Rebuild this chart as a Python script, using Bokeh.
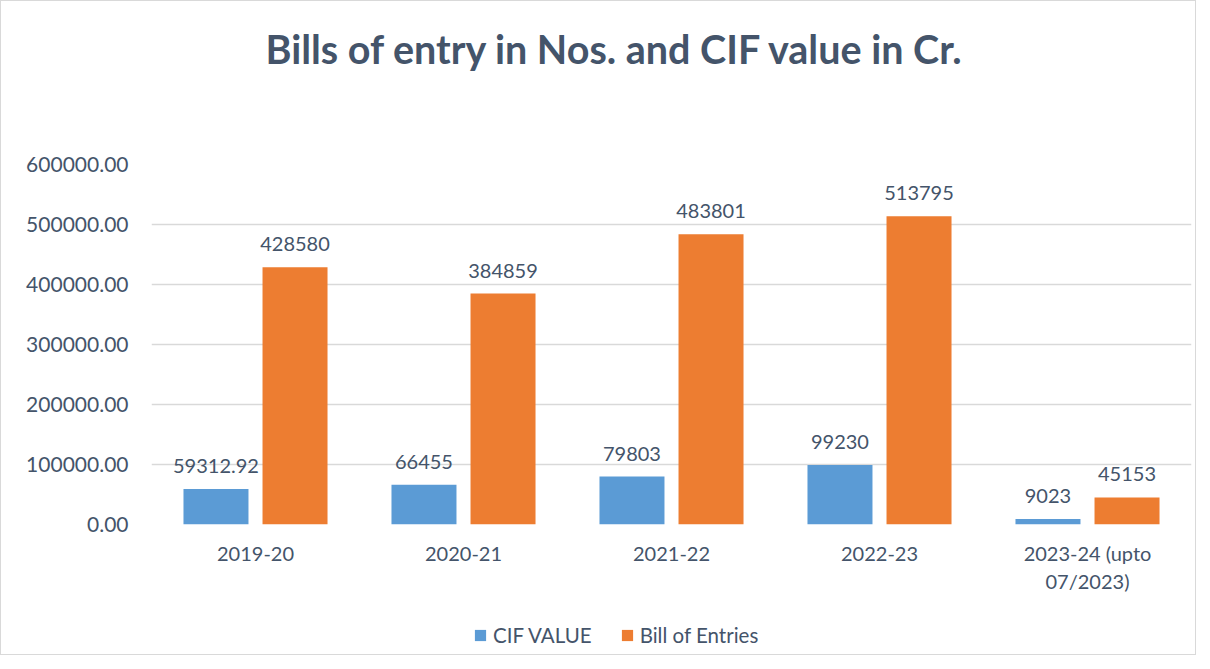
from bokeh.plotting import figure
from bokeh.layouts import column
from bokeh.models import (FactorRange, Range1d, ColumnDataSource, LabelSet, Legend, LegendItem,
                          NumeralTickFormatter, FixedTicker)
from bokeh.core.properties import value
from bokeh.transform import dodge
from bokeh.embed import file_html
from bokeh.resources import INLINE

title_text = "Bills of entry in Nos. and CIF value in Cr."
categories = ["2019-20", "2020-21", "2021-22", "2022-23", "2023-24 (upto\n07/2023)"]
cif_value = [59312.92, 66455, 79803, 99230, 9023]
bill_entries = [428580, 384859, 483801, 513795, 45153]
cif_labels = ["59312.92", "66455", "79803", "99230", "9023"]
bill_labels = ["428580", "384859", "483801", "513795", "45153"]
y_ticks = [0, 100000, 200000, 300000, 400000, 500000, 600000]
series_names = ["CIF VALUE", "Bill of Entries"]

FONT = "Lato"
TXT = "#44546A"
BLUE = "#5B9BD5"
ORANGE = "#ED7D31"

src = ColumnDataSource(dict(cat=categories, cif=cif_value, bill=bill_entries,
                            cif_lab=cif_labels, bill_lab=bill_labels))


def blank_strip(h, top):
    f = figure(width=1194, height=h, output_backend="svg", toolbar_location=None,
               x_range=Range1d(0, 1), y_range=Range1d(0, 1),
               min_border_left=0, min_border_right=0, min_border_top=top, min_border_bottom=0)
    f.axis.visible = False
    f.grid.visible = False
    f.outline_line_color = None
    return f


# title strip
t = blank_strip(100, 90)
t.title.text = title_text
t.title.align = "left"
t.title.offset = 114
t.title.vertical_align = "bottom"
t.title.text_font = FONT
t.title.text_font_style = "bold"
t.title.text_font_size = "39.5px"
t.title.text_color = TXT
t.title.standoff = 40

# main chart
p = figure(x_range=FactorRange(factors=categories), y_range=Range1d(0, 600000),
           width=1194, height=500, output_backend="svg", toolbar_location=None,
           min_border_left=150, min_border_right=4, min_border_top=63, min_border_bottom=77)

r1 = p.vbar(x=dodge("cat", -0.19, range=p.x_range), top="cif", width=0.3125, source=src,
            fill_color=BLUE, line_color=None)
r2 = p.vbar(x=dodge("cat", 0.19, range=p.x_range), top="bill", width=0.3125, source=src,
            fill_color=ORANGE, line_color=None)

for xoff, col, lab in [(-0.19, "cif", "cif_lab"), (0.19, "bill", "bill_lab")]:
    ls = LabelSet(x=dodge("cat", xoff, range=p.x_range), y=col, text=lab, source=src,
                  y_offset=16, text_align="center", text_baseline="bottom",
                  text_font=value(FONT), text_font_size="20px", text_color=TXT)
    p.add_layout(ls)

p.outline_line_color = None
p.xgrid.grid_line_color = None
p.ygrid.grid_line_color = "#D9D9D9"
p.ygrid.grid_line_width = 1.3
p.yaxis.ticker = FixedTicker(ticks=y_ticks)
p.yaxis.formatter = NumeralTickFormatter(format="0.00")
for ax in (p.xaxis[0], p.yaxis[0]):
    ax.axis_line_color = None
    ax.major_tick_line_color = None
    ax.minor_tick_line_color = None
    ax.major_tick_out = 0
    ax.minor_tick_out = 0
    ax.major_label_text_font = FONT
    ax.major_label_text_color = TXT
p.yaxis.major_label_text_font_size = "21px"
p.xaxis.major_label_text_font_size = "20px"
p.yaxis.major_label_standoff = 23
p.xaxis.major_label_standoff = 16

# legend strip below the chart (hidden proxy renderers carry the legend swatches)
q = blank_strip(53, 0)
d1 = q.vbar(x="cif", top="cif", width=1, source=src, fill_color=BLUE, line_color=None, visible=False)
d2 = q.vbar(x="bill", top="bill", width=1, source=src, fill_color=ORANGE, line_color=None, visible=False)
legend = Legend(items=[LegendItem(label=series_names[0], renderers=[d1]),
                       LegendItem(label=series_names[1], renderers=[d2])],
                orientation="horizontal", location=(322, 7),
                label_text_font=FONT, label_text_font_size="20.5px", label_text_color=TXT,
                glyph_width=14, glyph_height=14, spacing=28, label_standoff=6,
                border_line_color=None, background_fill_alpha=0, margin=0, padding=0,
                inactive_fill_alpha=0)
q.add_layout(legend, "center")

layout = column(t, p, q, spacing=0)
layout.styles = {"border": "1px solid #D9D9D9"}

open("out.html", "w").write(file_html(layout, INLINE))
